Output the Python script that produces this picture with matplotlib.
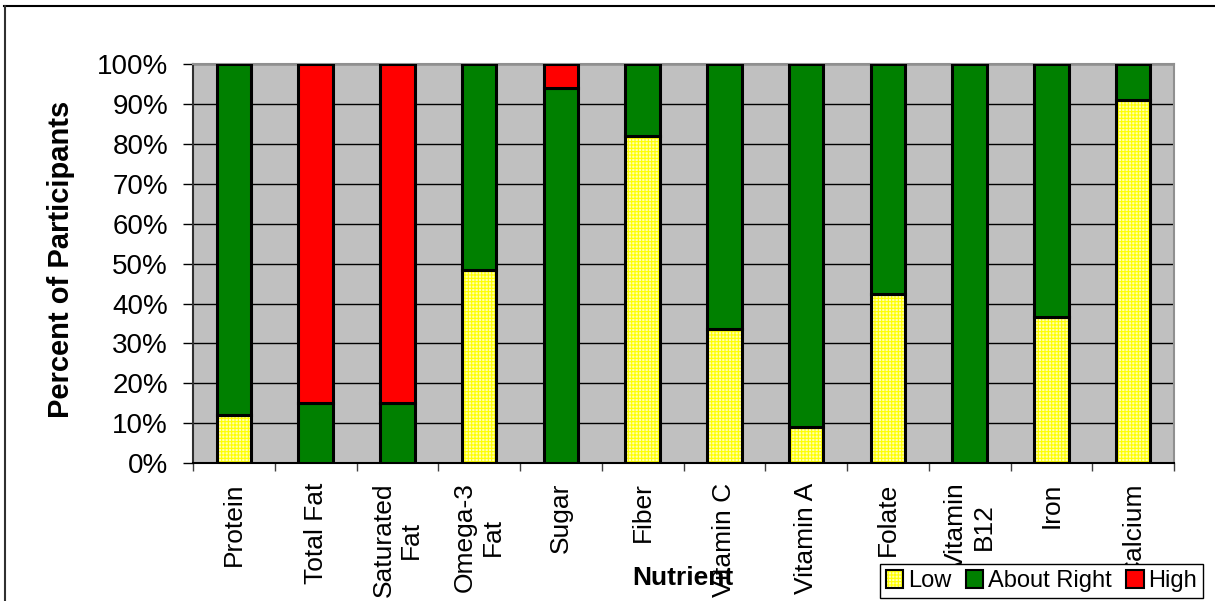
import matplotlib
matplotlib.use("Agg")
import matplotlib.pyplot as plt
from matplotlib.patches import Patch
from matplotlib.lines import Line2D
import numpy as np

categories = ["Protein", "Total Fat", "Saturated\nFat", "Omega-3\nFat", "Sugar", "Fiber",
              "Vitamin C", "Vitamin A", "Folate", "Vitamin\nB12", "Iron", "Calcium"]
low = [12, 0, 0, 48.5, 0, 82, 33.5, 9, 42.5, 0, 36.5, 91]
about_right = [88, 15, 15, 51.5, 94, 18, 66.5, 91, 57.5, 100, 63.5, 9]
high = [0, 85, 85, 0, 6, 0, 0, 0, 0, 0, 0, 0]
yticks = [0, 10, 20, 30, 40, 50, 60, 70, 80, 90, 100]
ytick_labels = [f"{v}%" for v in yticks]

plt.rcParams['font.family'] = ['Liberation Sans', 'DejaVu Sans']
plt.rcParams['hatch.linewidth'] = 0.8

fig = plt.figure(figsize=(12.15, 6.01), dpi=100)
ax = fig.add_axes([193/1215, 1-463/601, (1174-193)/1215, (463-64.3)/601])
ax.set_facecolor('#C0C0C0')

x = np.arange(len(categories))
w = 0.42
low_a = np.array(low)
ar_a = np.array(about_right)
hi_a = np.array(high)

def lws(v):
    return [2.2 if h > 0 else 0 for h in v]

# Low: hatched pale yellow
ax.bar(x, low_a, w, color='#FFFFB0', edgecolor='#FFFF00', hatch='+++++', linewidth=0, zorder=2)
ax.bar(x, low_a, w, fill=False, edgecolor='black', linewidth=lws(low_a), zorder=3)
ax.bar(x, ar_a, w, bottom=low_a, color='#008000', edgecolor='black', linewidth=lws(ar_a), zorder=3)
ax.bar(x, hi_a, w, bottom=low_a + ar_a, color='#FF0000', edgecolor='black', linewidth=lws(hi_a), zorder=3)

ax.set_xlim(-0.5, len(categories) - 0.5)
ax.set_ylim(0, 100)
ax.set_yticks(yticks)
ax.set_yticklabels(ytick_labels, fontsize=20)
ax.set_axisbelow(True)
ax.yaxis.grid(True, color='black', linewidth=1)
ax.tick_params(axis='y', direction='out', length=7, width=1, pad=11, colors='black')

ax.set_xticks(x)
ax.set_xticklabels(categories, rotation=90, fontsize=19, va='top', ha='center', multialignment='center')
ax.tick_params(axis='x', which='major', length=0, pad=14)
ax.set_xticks(np.arange(-0.5, len(categories) + 0.5, 1), minor=True)
ax.tick_params(axis='x', which='minor', direction='out', length=6, width=1, color='#404040')

for s in ['top', 'right']:
    ax.spines[s].set_color('#909090')
    ax.spines[s].set_linewidth(1.5)
ax.spines['left'].set_color('#303030')
ax.spines['left'].set_linewidth(1.5)
ax.spines['bottom'].set_color('black')
ax.spines['bottom'].set_linewidth(1.5)

fig.text(61/1215, 1-259/601, "Percent of Participants", rotation=90, ha='center', va='center',
         fontsize=21, fontweight='bold')
fig.text(683/1215, 1-578/601, "Nutrient", ha='center', va='center', fontsize=19, fontweight='bold')

# figure frame lines
fig.add_artist(Line2D([4/1215, 1], [1-6/601, 1-6/601], transform=fig.transFigure, color='black', linewidth=1.5))
fig.add_artist(Line2D([5/1215, 5/1215], [0, 1-6/601], transform=fig.transFigure, color='#303030', linewidth=1.5))

h_low = (Patch(facecolor='#FFFFB0', edgecolor='#FFFF00', hatch='+++++', linewidth=0),
         Patch(fill=False, edgecolor='black', linewidth=1.5))
h_ar = Patch(facecolor='#008000', edgecolor='black', linewidth=1.5)
h_hi = Patch(facecolor='#FF0000', edgecolor='black', linewidth=1.5)
leg = fig.legend([h_low, h_ar, h_hi], ["Low", "About Right", "High"], ncol=3,
                 loc='lower right', bbox_to_anchor=(1203/1215, 3/601), bbox_transform=fig.transFigure,
                 fontsize=17, frameon=True, fancybox=False, edgecolor='black', framealpha=1,
                 handlelength=0.75, handleheight=0.75, handletextpad=0.2, columnspacing=0.6,
                 borderpad=0.25, borderaxespad=0)
leg.get_frame().set_linewidth(1)

fig.savefig("out.png", dpi=100)
